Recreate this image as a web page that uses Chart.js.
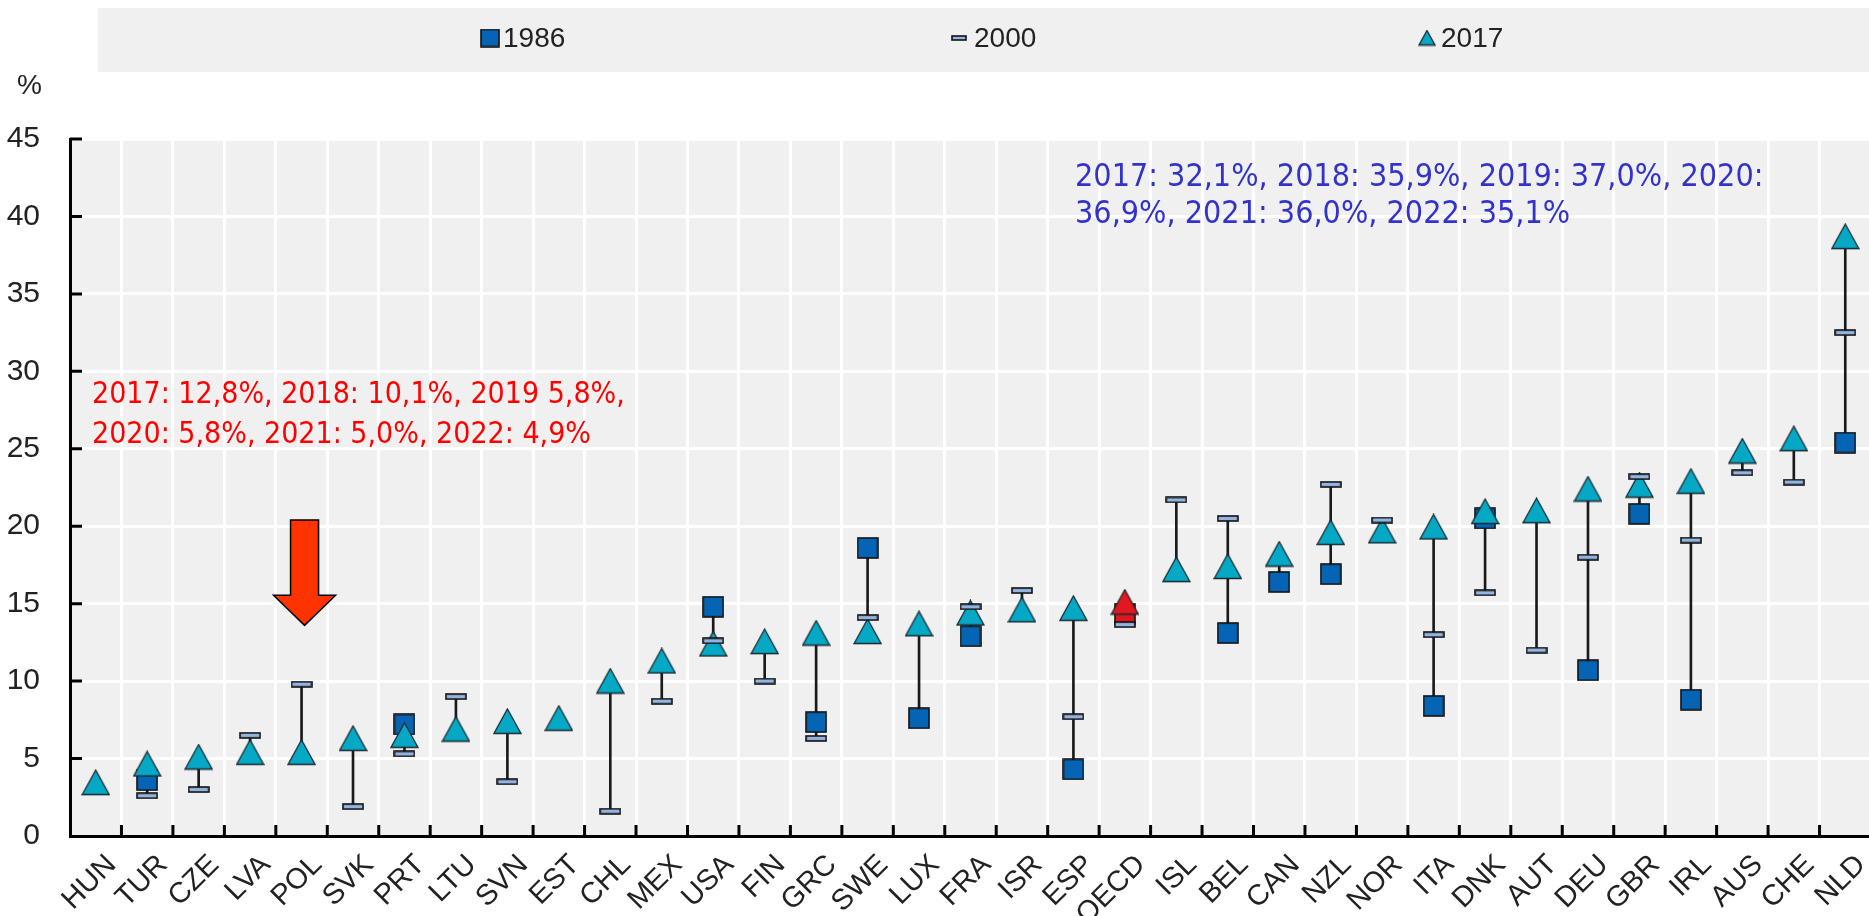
<!DOCTYPE html>
<html>
<head>
<meta charset="utf-8">
<script src="https://cdn.jsdelivr.net/npm/chart.js@4.4.1/dist/chart.umd.min.js"></script>
<style>
  html, body { margin: 0; padding: 0; background: #fff; overflow: hidden; width: 1869px; height: 916px; }
  canvas { display: block; }
</style>
</head>
<body>
<canvas id="myChart" width="1876" height="916"></canvas>
<script>
const countries = ["HUN", "TUR", "CZE", "LVA", "POL", "SVK", "PRT", "LTU", "SVN", "EST", "CHL", "MEX",
  "USA", "FIN", "GRC", "SWE", "LUX", "FRA", "ISR", "ESP", "OECD", "ISL", "BEL", "CAN", "NZL", "NOR",
  "ITA", "DNK", "AUT", "DEU", "GBR", "IRL", "AUS", "CHE", "NLD"];

const y1986 = [null, 3.6, null, null, null, null, 7.2, null, null, null, null, null,
  14.8, null, 7.35, 18.6, 7.6, 12.9, null, 4.3, 14.35, null, 13.1, 16.4, 16.9, null,
  8.4, 20.5, null, 10.7, 20.8, 8.8, null, null, 25.4];

const y2000 = [null, 2.6, 3.0, 6.5, 9.8, 1.9, 5.3, 9.0, 3.5, null, 1.6, 8.7,
  12.6, 10.0, 6.3, 14.1, null, 14.8, 15.85, 7.7, 13.65, 21.7, 20.5, null, 22.7, 20.4,
  13.0, 15.7, 12.0, 18.0, 23.2, 19.1, 23.45, 22.85, 32.5];

const y2017 = [3.45, 4.65, 5.1, 5.4, 5.4, 6.3, 6.5, 6.9, 7.4, 7.6, 10.0, 11.3,
  12.4, 12.55, 13.1, 13.2, 13.7, 14.4, 14.6, 14.7, 15.1, 17.2, 17.4, 18.2, 19.6, 19.7,
  19.95, 20.95, 21.0, 22.4, 22.65, 22.9, 24.85, 25.65, 38.7];

const yTicks = [0, 5, 10, 15, 20, 25, 30, 35, 40, 45];
const legendLabels = ["1986", "2000", "2017"];
const highlight = "OECD";

const polNote = ["2017: 12,8%, 2018: 10,1%, 2019 5,8%,", "2020: 5,8%, 2021: 5,0%, 2022: 4,9%"];
const nldNote = ["2017: 32,1%, 2018: 35,9%, 2019: 37,0%, 2020:", "36,9%, 2021: 36,0%, 2022: 35,1%"];
const arrowAt = "POL";
const arrowFrom = 20.4;
const arrowTo = 13.6;

// marker images
function marker(w, h, draw) {
  const c = document.createElement("canvas");
  c.width = w;
  c.height = h;
  draw(c.getContext("2d"), w, h);
  return c;
}
function squareImg(fill, w, h) {
  return marker(w, h, (g) => {
    g.fillStyle = fill;
    g.fillRect(1, 1, w - 2, h - 2);
    g.strokeStyle = "#111";
    g.lineWidth = 1.6;
    g.strokeRect(1, 1, w - 2, h - 2);
  });
}
function triImg(fill, w, h) {
  return marker(w, h, (g) => {
    g.beginPath();
    g.moveTo(w / 2, 1);
    g.lineTo(w - 1, h - 1.5);
    g.lineTo(1, h - 1.5);
    g.closePath();
    g.fillStyle = fill;
    g.fill();
    g.strokeStyle = "#1a2a30";
    g.lineWidth = 1.3;
    g.stroke();
  });
}

const sqBlue = squareImg("#0565b4", 22, 22);
const sqRed = squareImg("#e0161e", 22, 22);
const dash = squareImg("#92b4e0", 22, 7);
const triCyan = triImg("#05a9c6", 29, 27);
const triRed = triImg("#e3171f", 29, 27);

const ranges = countries.map((c, i) => {
  const v = [y1986[i], y2000[i], y2017[i]].filter((x) => x !== null);
  return v.length > 1 ? [Math.min(...v), Math.max(...v)] : null;
});

const narrow = '"Liberation Sans Narrow", "Arial Narrow", "Liberation Sans", Arial, sans-serif';
const noteFont = '"DejaVu Sans Condensed", "DejaVu Sans", sans-serif';

const extras = {
  id: "extras",
  beforeDraw(chart) {
    const { ctx, chartArea: a } = chart;
    ctx.save();
    ctx.fillStyle = "#f0f0f0";
    ctx.fillRect(a.left, a.top, a.right - a.left, a.bottom - a.top);
    ctx.fillRect(98, 8, chart.width - 98, 64);
    ctx.restore();
  },
  beforeDatasetsDraw(chart) {
    const { ctx, chartArea: a, scales } = chart;
    ctx.save();
    ctx.strokeStyle = "#000";
    ctx.lineWidth = 3;
    ctx.beginPath();
    for (let i = 1; i < countries.length; i++) {
      const x = (scales.x.getPixelForValue(i - 1) + scales.x.getPixelForValue(i)) / 2;
      ctx.moveTo(x, a.bottom);
      ctx.lineTo(x, a.bottom - 11);
    }
    yTicks.forEach((v) => {
      if (v === 0) return;
      const y = scales.y.getPixelForValue(v);
      ctx.moveTo(a.left, y);
      ctx.lineTo(a.left + 12, y);
    });
    ctx.stroke();
    ctx.restore();
  },
  afterDatasetsDraw(chart) {
    const { ctx, chartArea: a, scales } = chart;
    ctx.save();
    // arrow over POL
    const cx = scales.x.getPixelForValue(countries.indexOf(arrowAt)) + 3;
    const yTop = scales.y.getPixelForValue(arrowFrom);
    const yTip = scales.y.getPixelForValue(arrowTo);
    const headH = 30;
    ctx.beginPath();
    ctx.moveTo(cx - 14, yTop);
    ctx.lineTo(cx + 14, yTop);
    ctx.lineTo(cx + 14, yTip - headH);
    ctx.lineTo(cx + 31, yTip - headH);
    ctx.lineTo(cx, yTip);
    ctx.lineTo(cx - 31, yTip - headH);
    ctx.lineTo(cx - 14, yTip - headH);
    ctx.closePath();
    ctx.fillStyle = "#ff3300";
    ctx.fill();
    ctx.strokeStyle = "#000";
    ctx.lineWidth = 1.5;
    ctx.stroke();

    ctx.textBaseline = "alphabetic";
    ctx.textAlign = "left";
    ctx.font = "30px " + noteFont;
    ctx.fillStyle = "#ff0000";
    polNote.forEach((t, i) => ctx.fillText(t, a.left + 22, 403 + i * 40));
    ctx.font = "32px " + noteFont;
    ctx.fillStyle = "#3333cc";
    nldNote.forEach((t, i) => ctx.fillText(t, 1075, 186 + i * 37));
    ctx.restore();
  },
  afterDraw(chart) {
    const { ctx } = chart;
    ctx.save();
    ctx.fillStyle = "#222";
    ctx.font = "28px " + narrow;
    ctx.textBaseline = "middle";
    ctx.fillText("%", 17, 86);

    const icons = [squareImg("#0565b4", 20, 19), squareImg("#92b4e0", 16, 6), triImg("#05a9c6", 18, 17)];
    const xs = [480, 951, 1418];
    ctx.font = "28px " + narrow;
    legendLabels.forEach((lab, i) => {
      const ic = icons[i];
      ctx.drawImage(ic, xs[i], 38 - ic.height / 2);
      ctx.fillText(lab, xs[i] + 23, 39);
    });
    ctx.restore();
  }
};

const ctx1 = document.getElementById("myChart").getContext("2d");

const myChart = new Chart(ctx1, {
  type: "bar",
  data: {
    labels: countries,
    datasets: [
      {
        type: "line",
        label: legendLabels[1],
        data: y2000,
        showLine: false,
        pointStyle: dash,
        order: 0,
      },
      {
        type: "line",
        label: legendLabels[2],
        data: y2017,
        showLine: false,
        pointStyle: countries.map((c) => (c === highlight ? triRed : triCyan)),
        order: 1,
      },
      {
        type: "line",
        label: legendLabels[0],
        data: y1986,
        showLine: false,
        pointStyle: countries.map((c) => (c === highlight ? sqRed : sqBlue)),
        order: 2,
      },
      {
        label: "range",
        data: ranges,
        backgroundColor: "#1a1a1a",
        barThickness: 2,
        order: 3,
      },
    ],
  },
  options: {
    responsive: false,
    animation: false,
    layout: { padding: { top: 139, left: 0, right: 0, bottom: 0 } },
    plugins: {
      legend: { display: false },
      tooltip: { enabled: false },
    },
    scales: {
      x: {
        offset: true,
        grid: { offset: true, color: "#ffffff", lineWidth: 3, drawTicks: false },
        border: { display: true, color: "#000", width: 3 },
        ticks: {
          autoSkip: false,
          maxRotation: 45,
          minRotation: 45,
          padding: 12,
          labelOffset: 16,
          color: "#222",
          font: { family: narrow, size: 29 },
        },
        afterFit(scale) {
          scale.height = 80;
          scale.paddingRight = 0;
          scale.paddingLeft = 0;
        },
      },
      y: {
        min: 0,
        max: 45,
        afterBuildTicks(scale) { scale.ticks = yTicks.map((v) => ({ value: v })); },
        grid: { color: "#ffffff", lineWidth: 3, drawTicks: false },
        border: { display: true, color: "#000", width: 3 },
        ticks: {
          padding: 30,
          color: "#222",
          font: { family: narrow, size: 30 },
        },
        afterFit(scale) { scale.width = 70; },
      },
    },
  },
  plugins: [extras],
});
</script>
</body>
</html>
